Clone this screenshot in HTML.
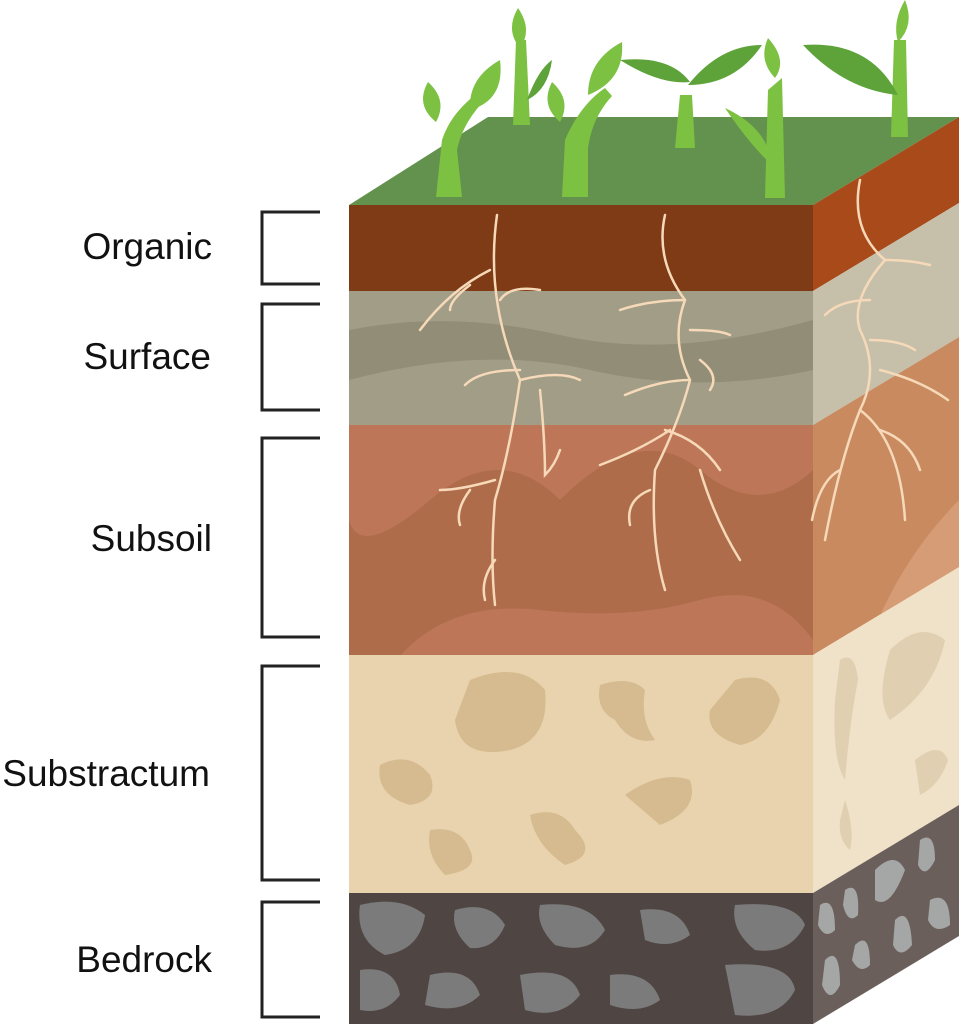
<!DOCTYPE html>
<html><head><meta charset="utf-8"><style>
html,body{margin:0;padding:0;background:#fff}
svg{display:block}
text{font-family:"Liberation Sans",sans-serif;font-size:37px;fill:#111}
</style></head><body>
<svg width="959" height="1024" viewBox="0 0 959 1024" xmlns="http://www.w3.org/2000/svg">
<!-- labels -->
<text x="212" y="259" text-anchor="end">Organic</text>
<text x="211" y="369" text-anchor="end">Surface</text>
<text x="212" y="551" text-anchor="end">Subsoil</text>
<text x="210" y="786" text-anchor="end">Substractum</text>
<text x="212" y="972" text-anchor="end">Bedrock</text>
<g fill="none" stroke="#222" stroke-width="3">
<path d="M320 212H262V284H320"/>
<path d="M320 304H262V410H320"/>
<path d="M320 438H262V637H320"/>
<path d="M320 666H262V880H320"/>
<path d="M320 902H262V1017H320"/>
</g>
<!-- top -->
<polygon points="349,205 813,205 959,117 488,117" fill="#62924e"/>
<!-- front layers -->
<rect x="349" y="205" width="464" height="87" fill="#7f3a16"/>
<rect x="349" y="291" width="464" height="135" fill="#a19d87"/>
<path d="M349 330 Q450 310 560 335 T813 320 V370 Q700 395 590 370 T349 380Z" fill="#928d77"/>
<rect x="349" y="425" width="464" height="231" fill="#ae6c4a"/>
<path d="M349 425H813V470Q760 520 700 470T560 500Q500 440 430 500T349 520Z" fill="#bd7658"/>
<path d="M400 656Q450 600 540 610T700 600T813 640V656Z" fill="#bd7658"/>
<rect x="349" y="655" width="464" height="239" fill="#e9d3ae"/>
<g fill="#d5bb8f">
<path d="M470 680Q520 660 545 690Q550 740 510 750Q460 760 455 720Z"/>
<path d="M600 685Q630 675 645 690Q640 720 655 740Q630 745 615 720Q595 710 600 685Z"/>
<path d="M735 680Q770 670 780 700Q770 740 740 745Q705 735 710 710Z"/>
<path d="M380 765Q410 750 430 775Q440 800 410 805Q375 795 380 765Z"/>
<path d="M625 795Q660 770 690 780Q700 810 660 825Z"/>
<path d="M430 830Q460 825 470 850Q480 870 445 875Q425 855 430 830Z"/>
<path d="M530 815Q560 805 575 830Q600 855 565 865Q535 845 530 815Z"/>
</g>
<rect x="349" y="893" width="464" height="131" fill="#4f4644"/>
<g fill="#7c7b7b">
<path d="M360 905Q400 895 425 915Q420 950 385 955Q355 940 360 905Z"/>
<path d="M455 910Q490 900 505 925Q495 950 470 948Q450 930 455 910Z"/>
<path d="M540 905Q590 900 605 930Q590 955 555 945Q535 925 540 905Z"/>
<path d="M640 910Q680 905 690 935Q670 950 645 940Z"/>
<path d="M735 905Q795 900 805 925Q790 955 755 950Q730 930 735 905Z"/>
<path d="M360 970Q395 965 400 995Q385 1015 360 1010Z"/>
<path d="M430 975Q470 965 480 995Q460 1015 425 1005Z"/>
<path d="M520 975Q570 965 580 995Q560 1020 525 1010Z"/>
<path d="M610 975Q650 970 660 1000Q640 1015 610 1005Z"/>
<path d="M725 965Q790 960 795 990Q780 1020 735 1015Z"/>
</g>
<!-- right face -->
<polygon points="813,205 959,117 959,203 813,291" fill="#a84a1a"/>
<polygon points="813,291 959,203 959,337 813,425" fill="#c6c0ab"/>
<polygon points="813,425 959,337 959,567 813,655" fill="#c98a60"/>
<path d="M870 640Q900 560 959 500V567Z" fill="#d69c76"/>
<polygon points="813,655 959,567 959,805 813,893" fill="#f0e2c8"/>
<g fill="#e0cfb0">
<path d="M840 660Q855 650 858 680Q850 720 845 780Q832 760 835 700Z"/>
<path d="M890 650Q920 620 945 640Q935 690 890 720Q875 700 890 650Z"/>
<path d="M915 760Q940 740 948 760Q940 785 920 795Z"/>
<path d="M845 800Q855 830 850 850Q838 840 840 820Z"/>
</g>
<polygon points="813,893 959,805 959,936 813,1024" fill="#6b5f5b"/>
<g fill="#a5a6a6">
<path d="M820 905Q835 895 835 930Q825 940 818 925Z"/>
<path d="M845 890Q860 880 858 915Q848 925 843 905Z"/>
<path d="M875 870Q895 850 905 870Q890 910 875 900Z"/>
<path d="M920 840Q935 830 935 860Q925 880 918 865Z"/>
<path d="M825 960Q840 945 840 985Q830 1005 822 985Z"/>
<path d="M855 945Q870 930 870 965Q860 975 852 960Z"/>
<path d="M895 920Q910 905 912 945Q900 960 893 945Z"/>
<path d="M930 900Q950 890 950 925Q935 935 928 920Z"/>
</g>
<!-- roots -->
<g fill="none" stroke="#f6d9b8" stroke-width="2.5" stroke-linecap="round">
<path d="M497 215Q485 300 520 380Q510 450 495 500Q490 560 495 605"/>
<path d="M490 270Q450 290 420 330M470 285Q450 300 450 310M500 300Q510 285 540 290M520 370Q480 370 465 385M520 380Q560 370 580 380M540 390Q545 440 545 475Q555 465 560 450M495 480Q460 490 440 490M470 490Q455 510 460 525M495 560Q480 580 485 600"/>
<path d="M665 215Q655 260 685 300Q670 340 690 380Q680 420 655 470Q650 540 665 590"/>
<path d="M685 300Q650 300 620 310M690 330Q720 330 730 335M690 380Q660 380 625 395M700 360Q720 375 710 390M670 430Q640 450 600 465M665 430Q700 440 720 470M700 470Q715 520 740 560M650 490Q625 500 630 525"/>
<path d="M860 180Q850 230 885 260Q850 300 860 330Q880 370 860 410Q840 460 825 540"/>
<path d="M885 260Q910 260 930 265M870 300Q840 300 825 315M870 340Q900 340 915 350M880 370Q920 380 948 400M860 410Q900 440 905 520M880 430Q910 440 920 470M840 470Q820 480 812 520"/>
</g>
<!-- plants -->
<g fill="#7cc142">
<path d="M436 197L442 140Q450 115 475 95L482 103Q462 125 457 150L462 197Z"/>
<path d="M513 125L516 40L526 40L530 125Z"/>
<path d="M562 197L565 140Q580 105 605 88L612 96Q592 118 588 148L588 197Z"/>
<path d="M675 148L680 95L692 95L695 148Z"/>
<path d="M765 198L768 90L782 78L785 198Z"/>
<path d="M891 137L894 40L906 40L908 137Z"/>
<path d="M428 82Q415 105 436 122Q448 100 428 82Z"/>
<path d="M552 82Q540 105 560 122Q572 100 552 82Z"/>
<path d="M500 60Q468 78 470 110Q505 100 500 60Z"/>
<path d="M622 42Q588 60 588 95Q625 80 622 42Z"/>
<path d="M518 8Q505 30 520 48Q533 30 518 8Z"/>
<path d="M768 38Q758 60 775 78Q788 60 768 38Z"/>
<path d="M905 0Q892 22 898 42Q915 25 905 0Z"/>
<path d="M725 108Q750 145 772 165Q768 128 725 108Z"/>
</g>
<g fill="#5ea33a">
<path d="M620 60Q660 85 690 82Q670 55 620 60Z"/>
<path d="M688 85Q720 45 762 45Q735 85 688 85Z"/>
<path d="M803 45Q870 40 898 95Q845 90 803 45Z"/>
<path d="M527 100Q538 70 552 60Q548 90 527 100Z"/>
</g>
</svg>
</body></html>
